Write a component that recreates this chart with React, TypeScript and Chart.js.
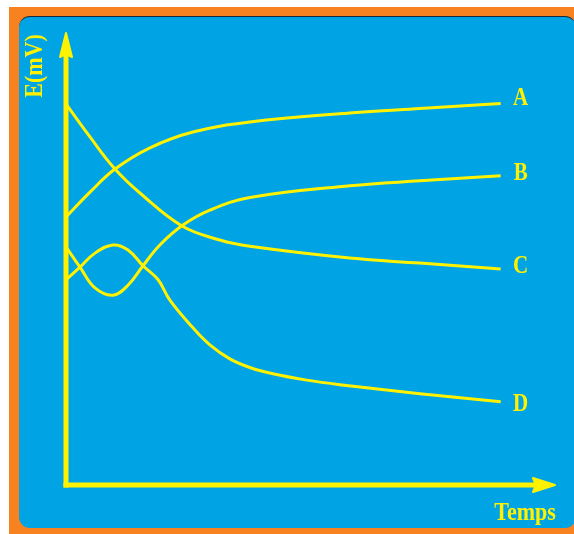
import React, { useEffect, useRef } from "react";
import { Chart, registerables } from "chart.js";

Chart.register(...registerables);

// Time (arbitrary units) and potential E (mV, arbitrary units)
const timeA = [0, 5.52, 11.27, 19.32, 29.2, 42.3, 65.3, 81.4, 100];
const valuesA = [59.3, 64.8, 69.9, 74.6, 78.1, 80.3, 82.3, 83.3, 84.4];

const timeB = [0, 3.22, 6.67, 10.81, 14.26, 17.71, 21.6, 26.9, 33.1, 42.3, 65.3, 81.4, 100];
const valuesB = [52.7, 48.2, 43.6, 42.0, 44.2, 48.5, 53.1, 57.5, 60.8, 63.6, 66.2, 67.3, 68.4];

const timeC = [0, 5.52, 11.27, 17.0, 26.7, 35.4, 42.3, 65.3, 81.4, 100];
const valuesC = [84.3, 77.0, 69.9, 64.6, 57.3, 54.2, 52.8, 50.2, 49.1, 47.8];

const timeD = [0, 3.22, 6.67, 10.81, 14.26, 17.71, 21.2, 23.9, 29.0, 33.1, 37.7, 42.3, 47.6, 55.4, 63.0, 81.4, 100];
const valuesD = [45.4, 48.2, 51.3, 53.1, 52.0, 48.5, 45.4, 40.9, 35.0, 31.0, 27.9, 26.0, 24.6, 23.2, 22.2, 20.2, 18.4];

const seriesNames = ["A", "B", "C", "D"];
const xAxisTitle = "Temps";
const yAxisTitle = "E(mV)";

const YELLOW = "#FFF200";
const BLUE = "#00A3E4";
const ORANGE = "#F7821F";

const labelOffsets = [-6.5, -4, -4, 1];

export default function App() {
  const canvasRef = useRef<HTMLCanvasElement | null>(null);

  useEffect(() => {
    const canvas = canvasRef.current;
    if (!canvas) return;
    const toPts = (xs: number[], ys: number[]) => xs.map((x, i) => ({ x, y: ys[i] }));
    const sets = [
      toPts(timeA, valuesA),
      toPts(timeB, valuesB),
      toPts(timeC, valuesC),
      toPts(timeD, valuesD),
    ];

    const decor = {
      id: "decor",
      afterDraw(chart: any) {
        const ctx = chart.ctx as CanvasRenderingContext2D;
        const a = chart.chartArea;
        ctx.save();
        ctx.strokeStyle = YELLOW;
        ctx.fillStyle = YELLOW;
        ctx.lineCap = "butt";
        // y axis
        ctx.lineWidth = 5;
        ctx.beginPath();
        ctx.moveTo(a.left, a.bottom + 2.5);
        ctx.lineTo(a.left, a.top + 18);
        ctx.stroke();
        // x axis
        ctx.beginPath();
        ctx.moveTo(a.left - 2.5, a.bottom);
        ctx.lineTo(a.right - 16, a.bottom);
        ctx.stroke();
        // arrows
        ctx.lineWidth = 2;
        ctx.lineJoin = "round";
        ctx.beginPath();
        ctx.moveTo(a.left, a.top);
        ctx.lineTo(a.left - 6, a.top + 24);
        ctx.lineTo(a.left, a.top + 21);
        ctx.lineTo(a.left + 6, a.top + 24);
        ctx.closePath();
        ctx.fill();
        ctx.stroke();
        ctx.beginPath();
        ctx.moveTo(a.right, a.bottom);
        ctx.lineTo(a.right - 22, a.bottom - 7);
        ctx.lineTo(a.right - 19, a.bottom);
        ctx.lineTo(a.right - 22, a.bottom + 7);
        ctx.closePath();
        ctx.fill();
        ctx.stroke();

        // axis titles
        ctx.font = "bold 22px 'Liberation Serif', 'DejaVu Serif', serif";
        ctx.textAlign = "center";
        ctx.textBaseline = "alphabetic";
        ctx.save();
        ctx.translate(a.right - 30, a.bottom + 35);
        ctx.scale(1, 1.15);
        ctx.fillText(xAxisTitle, 0, 0);
        ctx.restore();

        ctx.save();
        ctx.translate(a.left - 24, a.top + 33);
        ctx.rotate(-Math.PI / 2);
        ctx.scale(1, 1.15);
        ctx.fillText(yAxisTitle, 0, 0);
        ctx.restore();

        // series labels at curve ends
        ctx.font = "bold 21px 'Liberation Serif', 'DejaVu Serif', serif";
        chart.data.datasets.forEach((ds: any, i: number) => {
          const meta = chart.getDatasetMeta(i);
          const last = meta.data[meta.data.length - 1];
          if (!last) return;
          ctx.save();
          ctx.translate(last.x + 20, last.y + labelOffsets[i] + 8.3);
          ctx.scale(1, 1.2);
          ctx.fillText(ds.label, 0, 0);
          ctx.restore();
        });
        ctx.restore();
      },
    };

    const chart = new Chart(canvas, {
      type: "line",
      data: {
        datasets: sets.map((d, i) => ({
          label: seriesNames[i],
          data: d,
          borderColor: YELLOW,
          borderWidth: 3,
          pointRadius: 0,
          fill: false,
          tension: 0.4,
        })),
      },
      options: {
        responsive: false,
        animation: false,
        events: [],
        layout: { padding: { left: 66, right: 19, top: 33, bottom: 49 } },
        plugins: { legend: { display: false }, tooltip: { enabled: false } },
        scales: {
          x: { type: "linear", min: 0, max: 112.5, display: false },
          y: { type: "linear", min: 0, max: 100, display: false },
        },
      },
      plugins: [decor],
    });
    return () => chart.destroy();
  }, []);

  return (
    <div style={{ position: "fixed", left: 0, top: 0, width: 574, height: 534, background: "#fff", overflow: "hidden" }}>
      <div style={{ position: "absolute", left: 9, top: 7, width: 570, height: 530, background: ORANGE }} />
      <div
        style={{
          position: "absolute",
          left: 19,
          top: 16,
          width: 557,
          height: 512,
          background: BLUE,
          borderRadius: 11,
          borderTop: "1px solid #1a2a3a",
          boxSizing: "border-box",
        }}
      />
      <canvas ref={canvasRef} width={574} height={534} style={{ position: "absolute", left: 0, top: 0 }} />
    </div>
  );
}
